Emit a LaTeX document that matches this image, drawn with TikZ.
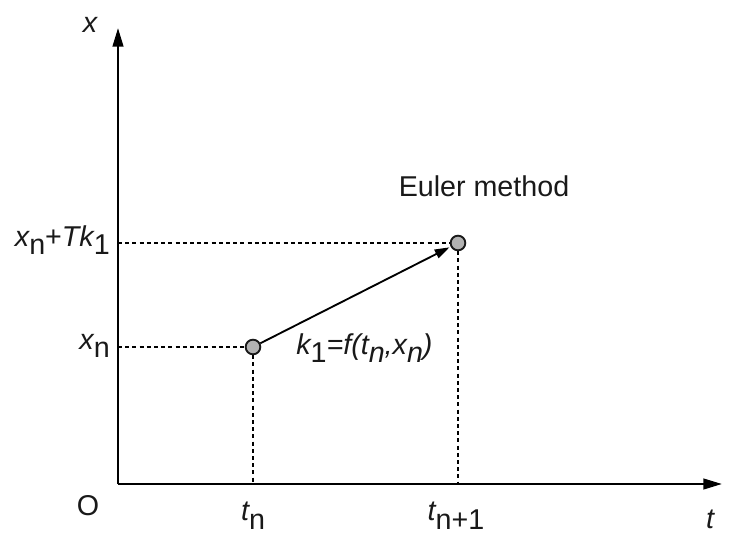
\documentclass[tikz,border=0pt]{standalone}
\usepackage{fontspec}
\setmainfont{Liberation Sans}
\usetikzlibrary{arrows.meta}
\newcommand{\lowsub}[1]{\raisebox{-0.3em}{#1}}
\begin{document}
\begin{tikzpicture}[x=0.75pt,y=-0.75pt,
  every node/.style={font=\fontsize{21.5}{24}\selectfont, text=black!90, inner sep=0pt},
  axis/.style={line width=1.7pt, -{Triangle[length=14pt,width=8pt]}},
  guide/.style={line width=1.1pt, dash pattern=on 3pt off 2.4pt},
  pt/.style={circle, draw=black!90, line width=1.4pt, fill=black!30, minimum size=11pt, inner sep=0pt},
  slope/.style={line width=1.4pt, -{Triangle[length=11pt,width=7pt]}, shorten >=1pt}]
\useasboundingbox (0,0) rectangle (732,535);
\coordinate (O) at (118,484);
\coordinate (ytop) at (118,28);
\coordinate (xend) at (722,484);
\coordinate (ya) at (118,347);
\coordinate (yb) at (118,243);
\coordinate (ta) at (253,484);
\coordinate (tb) at (458,484);
\node[pt] (p1) at (253,347) {};
\node[pt] (p2) at (458,243) {};
\draw[guide] (ya) -- (p1.west);
\draw[guide] (yb) -- (p2.west);
\draw[guide] (p1.south) -- (ta);
\draw[guide] (p2.south) -- (tb);
\draw[axis] (O) -- (ytop);
\draw[axis] (O) -- (xend);
\draw[slope] (p1) -- (p2);
\node (xl) at (90,25) {\itshape x};
\node (ol) at (88,506) {O};
\node (tl) at (710,519) {\itshape t};
\node[anchor=east] (xb) at (110,240) {\itshape x\upshape\lowsub{n}+\itshape Tk\upshape\lowsub{1}};
\node[anchor=east] (xa) at (110,346) {\itshape x\upshape\lowsub{n}};
\node (tna) at (253,516) {\itshape t\upshape\lowsub{n}};
\node (tnb) at (456,516) {\itshape t\upshape\lowsub{n+1}};
\node (em) at (484,186) {Euler method};
\node[anchor=west] (kl) at (296,348) {\itshape k\upshape\lowsub{1}\itshape =f(t\lowsub{n},x\lowsub{n})};
\end{tikzpicture}
\end{document}
